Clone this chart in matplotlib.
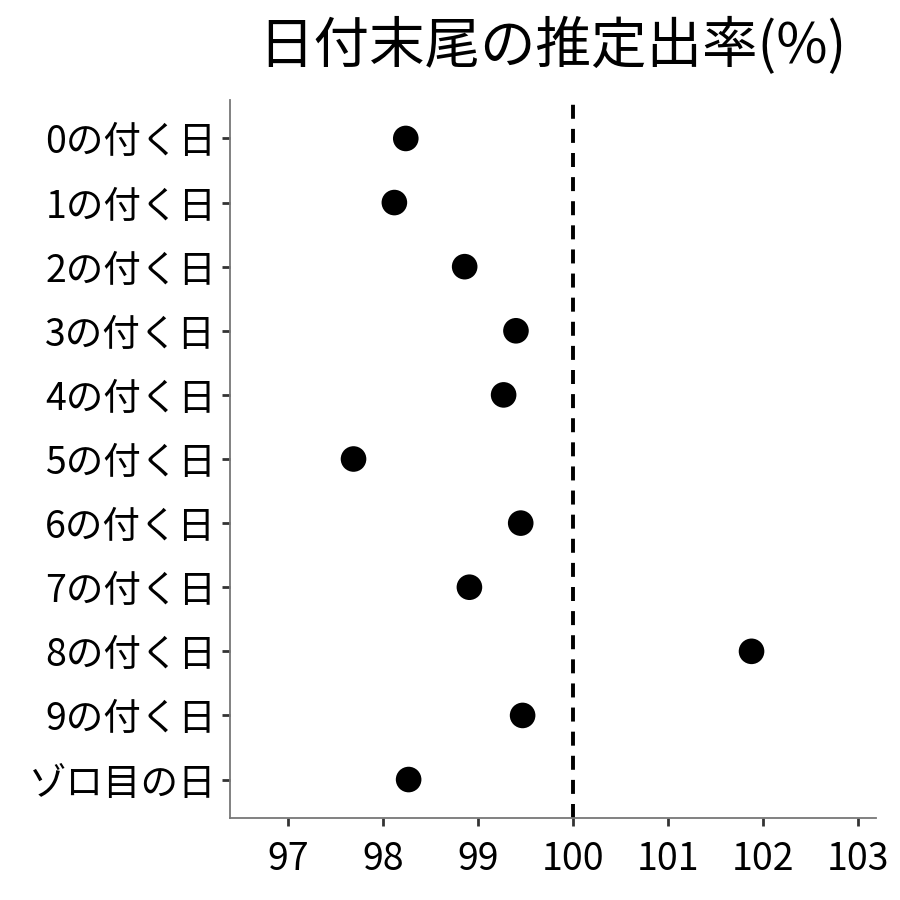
import matplotlib
matplotlib.use('Agg')
import matplotlib.pyplot as plt

plt.rcParams['font.family'] = ['Noto Sans CJK JP', 'DejaVu Sans']

# Data
categories = ['0の付く日', '1の付く日', '2の付く日', '3の付く日', '4の付く日',
              '5の付く日', '6の付く日', '7の付く日', '8の付く日', '9の付く日',
              'ゾロ目の日']
rates = [98.24, 98.12, 98.86, 99.40, 99.27, 97.69, 99.45, 98.91, 101.88, 99.47, 98.27]
xticks = [97, 98, 99, 100, 101, 102, 103]
ref_value = 100

fig = plt.figure(figsize=(9, 9), dpi=100)
ax = fig.add_axes([0.2556, 0.0911, 0.9733 - 0.2556, 0.8889 - 0.0911])

y = list(range(len(categories)))
ax.axvline(ref_value, color='black', linestyle=(0, (3.6, 2.6)), linewidth=2.8, zorder=1)
ax.scatter(rates, y, s=340, color='black', zorder=3, edgecolors='none')

ax.set_yticks(y)
ax.set_yticklabels(categories)
ax.set_xticks(xticks)
ax.set_xlim(96.39, 103.19)
ax.set_ylim(10.6, -0.6)

for side in ['top', 'right']:
    ax.spines[side].set_visible(False)
for side in ['left', 'bottom']:
    ax.spines[side].set_color('#777777')
    ax.spines[side].set_linewidth(1.3)

ax.tick_params(axis='both', length=6, width=2, color='#333333',
               labelsize=27, labelcolor='black')
ax.tick_params(axis='x', pad=10)
ax.tick_params(axis='y', pad=4)

fig.text(0.614, 0.948, '日付末尾の推定出率(%)', ha='center', va='center', fontsize=40)

fig.savefig('out.png', dpi=100, facecolor='white')
